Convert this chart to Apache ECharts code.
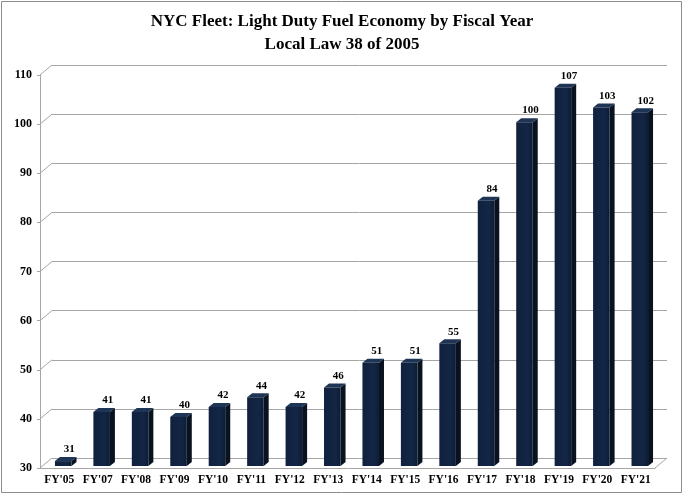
<!DOCTYPE html>
<html>
<head>
<meta charset="utf-8">
<script src="https://cdn.jsdelivr.net/npm/echarts@6/dist/echarts.min.js"></script>
<style>
html,body{margin:0;padding:0;background:#fff;}
#c{width:684px;height:496px;}
</style>
</head>
<body>
<div id="c"></div>
<script>
const categories = ["FY'05","FY'07","FY'08","FY'09","FY'10","FY'11","FY'12","FY'13","FY'14","FY'15","FY'16","FY'17","FY'18","FY'19","FY'20","FY'21"];
const fuelEconomy = [31,41,41,40,42,44,42,46,51,51,55,84,100,107,103,102];
const yTicks = [30,40,50,60,70,80,90,100,110];

const SERIF = '"Liberation Serif","Times New Roman",serif';
const DEPTH_X = 12, DEPTH_Y = -10;
const gridColor = '#a6a6a6';

const chart = echarts.init(document.getElementById('c'));
chart.setOption({
  backgroundColor: '#fff',
  animation: false,
  title: {
    text: 'NYC Fleet: Light Duty Fuel Economy by Fiscal Year\nLocal Law 38 of 2005',
    left: 'center',
    top: 5,
    textStyle: {fontFamily: SERIF, fontWeight: 'bold', fontSize: 17, lineHeight: 23, color: '#000'}
  },
  graphic: [{
    type: 'rect', silent: true,
    shape: {x: 1.5, y: 1.5, width: 680, height: 491},
    style: {fill: 'none', stroke: '#8c8c8c', lineWidth: 1}
  }],
  grid: [
    {left: 40, right: 29, top: 75, bottom: 28},
    {left: 52, right: 17, top: 65, bottom: 38}
  ],
  xAxis: [
    {
      type: 'category', gridIndex: 0, data: categories,
      axisLine: {show: true, lineStyle: {color: gridColor}},
      axisTick: {show: false},
      axisLabel: {interval: 0, margin: 6, fontFamily: SERIF, fontWeight: 'bold', fontSize: 11.5, color: '#000'}
    },
    {type: 'category', gridIndex: 1, data: categories, show: false}
  ],
  yAxis: [
    {
      type: 'value', gridIndex: 0, min: 30, max: 110, interval: 10,
      axisLine: {show: true, lineStyle: {color: gridColor}},
      axisTick: {show: true, length: 3, lineStyle: {color: gridColor}},
      splitLine: {show: false},
      axisLabel: {margin: 8, fontFamily: SERIF, fontWeight: 'bold', fontSize: 12, color: '#000'}
    },
    {
      type: 'value', gridIndex: 1, min: 30, max: 110, interval: 10,
      axisLine: {show: false}, axisTick: {show: false}, axisLabel: {show: false},
      splitLine: {show: true, lineStyle: {color: gridColor, width: 1}}
    }
  ],
  series: [
    {
      type: 'custom', xAxisIndex: 0, yAxisIndex: 0, silent: true,
      data: yTicks.map(v => [0, v]),
      encode: {x: 0, y: 1},
      renderItem: function (params, api) {
        const v = api.value(1);
        const p = api.coord([0, v]);
        const cs = params.coordSys;
        const children = [{
          type: 'line',
          shape: {x1: cs.x, y1: p[1], x2: cs.x + DEPTH_X, y2: p[1] + DEPTH_Y},
          style: {stroke: gridColor, lineWidth: 1}
        }];
        if (v === yTicks[0]) {
          children.push({
            type: 'line',
            shape: {x1: cs.x + cs.width, y1: p[1], x2: cs.x + cs.width + DEPTH_X, y2: p[1] + DEPTH_Y},
            style: {stroke: gridColor, lineWidth: 1}
          });
        }
        return {type: 'group', children: children};
      }
    },
    {
      type: 'custom', xAxisIndex: 0, yAxisIndex: 0, silent: true,
      data: fuelEconomy.map((v, i) => [i, v]),
      encode: {x: 0, y: 1},
      renderItem: function (params, api) {
        const i = api.value(0), v = api.value(1);
        const top = api.coord([i, v]);
        const base = api.coord([i, 30]);
        const band = api.size([1, 0])[0];
        const w = band * 0.43;
        const ox = 4, oy = -2;
        const dx = 5, dy = -4;
        const x0 = top[0] - w / 2 + ox, x1 = x0 + w;
        const yt = top[1] + oy, yb = base[1] + oy;
        return {
          type: 'group',
          children: [
            {type: 'polygon', shape: {points: [[x1, yt], [x1 + dx, yt + dy], [x1 + dx, yb + dy], [x1, yb]]},
             style: {fill: '#09131f'}},
            {type: 'polygon', shape: {points: [[x0, yt], [x0 + dx, yt + dy], [x1 + dx, yt + dy], [x1, yt]]},
             style: {fill: '#1f3556'}},
            {type: 'rect', shape: {x: x0, y: yt, width: w, height: yb - yt},
             style: {fill: new echarts.graphic.LinearGradient(0, 0, 1, 0, [
               {offset: 0, color: '#10213d'}, {offset: 0.7, color: '#132645'}, {offset: 1, color: '#0d1c35'}])}},
            {type: 'text', x: (x0 + x1) / 2 + 6, y: yt - 6,
             style: {text: String(v), fill: '#000', font: 'bold 11px ' + SERIF, align: 'center', verticalAlign: 'bottom'}}
          ]
        };
      }
    }
  ]
});
</script>
</body>
</html>
